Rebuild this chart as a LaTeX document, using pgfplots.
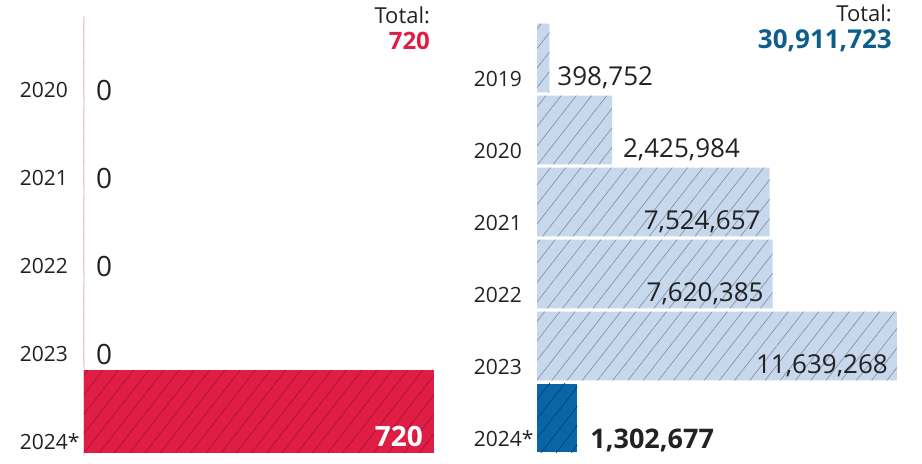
\documentclass[border=0pt]{standalone}
\usepackage{fontspec}
\setmainfont{Open Sans}
\usepackage{pgfplots}
\pgfplotsset{compat=1.18}
\usetikzlibrary{patterns.meta}
\definecolor{cRed}{HTML}{E01D45}
\definecolor{cRedHatch}{HTML}{A3152F}
\definecolor{cLight}{HTML}{C7D7EC}
\definecolor{cLightHatch}{HTML}{7E8CA4}
\definecolor{cDark}{HTML}{0A65A6}
\definecolor{cDarkHatch}{HTML}{06416C}
\definecolor{cTotal}{HTML}{0D5E8C}
\definecolor{txt}{HTML}{222222}
\definecolor{axisgray}{HTML}{EEE8EA}

\newcommand{\yearfont}{\fontsize{10.5}{12}\selectfont}
\newcommand{\valfont}{\fontsize{13}{15}\selectfont}

\begin{document}
\begin{tikzpicture}
\path[use as bounding box] (0,0) rectangle (461pt,231.5pt);

%% left panel
\begin{axis}[
    at={(42pt,3.75pt)}, anchor=south west,
    scale only axis, width=175pt, height=220pt,
    xbar, bar shift=0pt, bar width=0.94,
    xmin=0, xmax=720, ymin=-0.5, ymax=4.5, y dir=reverse,
    axis x line=none, axis y line*=left,
    axis line style={draw=axisgray, line width=0.7pt, -},
    xtick=\empty,
    ytick={0,1,2,3,4},
    yticklabels={2020,2021,2022,2023,2024\rlap{*}},
    major tick length=0pt,
    yticklabel style={font=\yearfont, text=txt, anchor=east, xshift=-4.5pt, yshift=-15pt},
    clip=false,
]
\addplot[fill=cRed, draw=none,
    postaction={pattern={Lines[angle=52, distance=6pt, line width=0.3pt]}, pattern color=cRedHatch}]
coordinates {(0,0) (0,1) (0,2) (0,3) (720,4)};

\node[anchor=west, font=\fontsize{14}{16}\selectfont, text=txt, xshift=2.5pt, yshift=-15.5pt] at (axis cs:0,0) {0};
\node[anchor=west, font=\fontsize{14}{16}\selectfont, text=txt, xshift=2.5pt, yshift=-15.5pt] at (axis cs:0,1) {0};
\node[anchor=west, font=\fontsize{14}{16}\selectfont, text=txt, xshift=2.5pt, yshift=-15.5pt] at (axis cs:0,2) {0};
\node[anchor=west, font=\fontsize{14}{16}\selectfont, text=txt, xshift=2.5pt, yshift=-15.5pt] at (axis cs:0,3) {0};
\node[anchor=east, font=\fontsize{14}{16}\selectfont\bfseries, text=white, xshift=-2pt, yshift=-12.5pt] at (axis cs:720,4) {720};

\node[anchor=east, font=\fontsize{11}{13}\selectfont, text=txt, xshift=1.5pt, yshift=0pt] at (axis cs:720,-0.5) {Total:};
\node[anchor=east, font=\fontsize{12}{14}\selectfont\bfseries, text=cRed, xshift=1.5pt, yshift=-12.75pt] at (axis cs:720,-0.5) {720};
\end{axis}

%% right panel
\begin{axis}[
    at={(268.5pt,4.5pt)}, anchor=south west,
    scale only axis, width=185.5pt, height=216pt,
    xbar, bar shift=0pt, bar width=0.955,
    xmin=0, xmax=12000000, ymin=-0.5, ymax=5.5, y dir=reverse,
    axis x line=none, axis y line*=left,
    axis line style={draw=none},
    xtick=\empty,
    ytick={0,1,2,3,4,5},
    yticklabels={2019,2020,2021,2022,2023,2024\rlap{*}},
    major tick length=0pt,
    yticklabel style={font=\yearfont, text=txt, anchor=east, xshift=-4pt, yshift=-10.5pt},
    clip=false,
]
\addplot[fill=cLight, draw=none,
    postaction={pattern={Lines[angle=52, distance=6pt, line width=0.3pt]}, pattern color=cLightHatch}]
coordinates {(398752,0) (2425984,1) (7524657,2) (7620385,3) (11639268,4)};
\addplot[fill=cDark, draw=none,
    postaction={pattern={Lines[angle=52, distance=6pt, line width=0.3pt]}, pattern color=cDarkHatch}]
coordinates {(1302677,5)};

\node[anchor=west, font=\valfont, text=txt, xshift=0.5pt, yshift=-10pt] at (axis cs:398752,0) {398,752};
\node[anchor=west, font=\valfont, text=txt, xshift=2pt, yshift=-10pt] at (axis cs:2425984,1) {2,425,984};
\node[anchor=east, font=\valfont, text=txt, xshift=-1pt, yshift=-10pt] at (axis cs:7524657,2) {7,524,657};
\node[anchor=east, font=\valfont, text=txt, xshift=-1pt, yshift=-10pt] at (axis cs:7620385,3) {7,620,385};
\node[anchor=east, font=\valfont, text=txt, xshift=-1pt, yshift=-10pt] at (axis cs:11639268,4) {11,639,268};
\node[anchor=west, font=\fontsize{13.5}{15}\selectfont\bfseries, text=txt, xshift=3pt, yshift=-11pt] at (axis cs:1302677,5) {1,302,677};

\node[anchor=east, font=\fontsize{11}{13}\selectfont, text=txt, xshift=1pt, yshift=4.5pt] at (axis cs:11639268,-0.5) {Total:};
\node[anchor=east, font=\fontsize{13}{15}\selectfont\bfseries, text=cTotal, xshift=1pt, yshift=-9.5pt] at (axis cs:11639268,-0.5) {30,911,723};
\end{axis}
\end{tikzpicture}
\end{document}
